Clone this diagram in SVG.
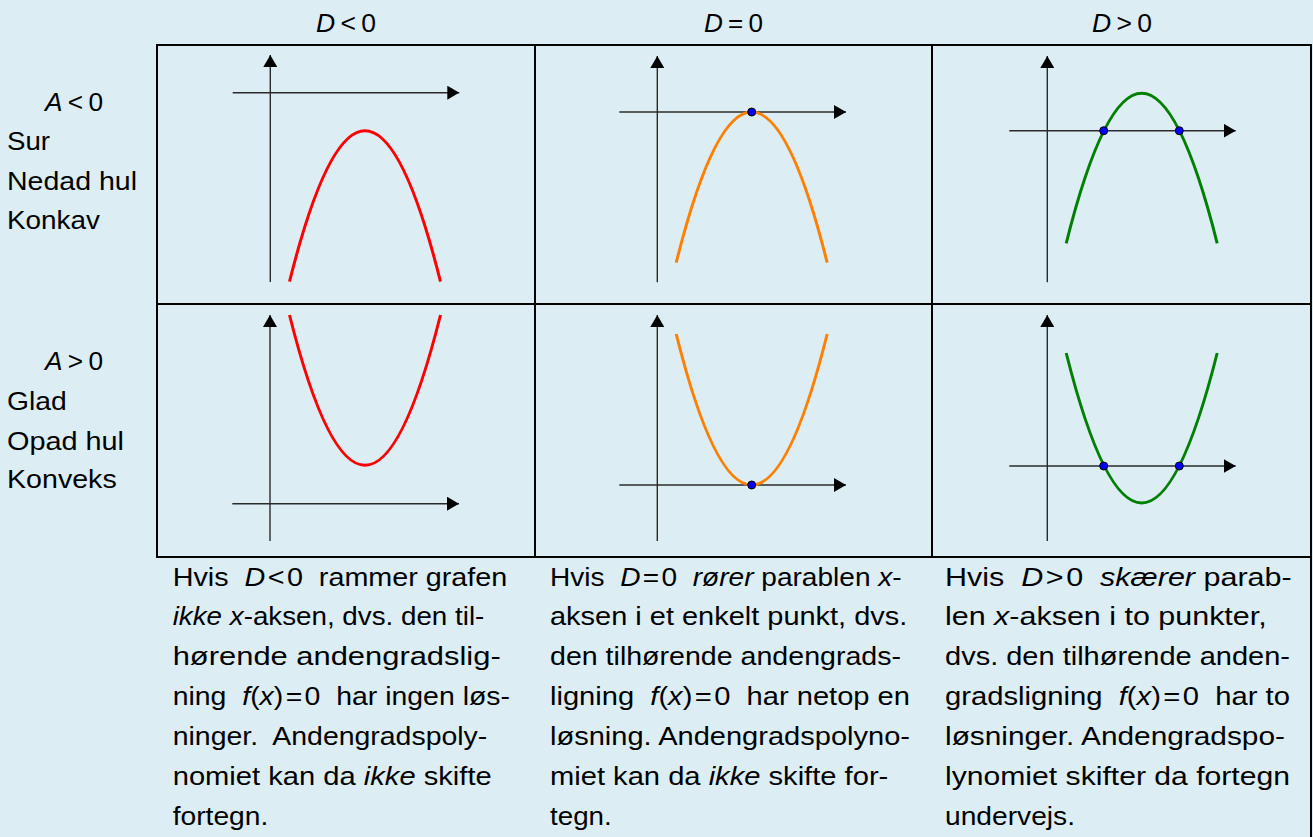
<svg xmlns="http://www.w3.org/2000/svg" width="1313" height="837" viewBox="0 0 1313 837">
<style>
text{font-family:"Liberation Sans",Arial,sans-serif;font-size:25px;fill:#000}
.it{font-style:italic}
.grid{stroke:#000;stroke-width:2;fill:none}
.ax{stroke:#2a2a2a;stroke-width:1.4;fill:none}
.red{stroke:#FF0000;stroke-width:3;fill:none}
.org{stroke:#FF8000;stroke-width:3;fill:none}
.grn{stroke:#008000;stroke-width:3;fill:none}
.dot{fill:#0000FF;stroke:#000;stroke-width:1}
</style>
<defs>
<marker id="arr" viewBox="0 0 12 14" refX="12" refY="7" markerWidth="12" markerHeight="14" markerUnits="userSpaceOnUse" orient="auto">
<path d="M0,0 L12,7 L0,14 z" fill="#000"/>
</marker>
</defs>
<rect x="0" y="0" width="1313" height="837" fill="#DCEEF4"/>

<g id="headers">
<text x="316" y="31.5" textLength="60" lengthAdjust="spacingAndGlyphs"><tspan class="it">D</tspan>&#8201;&lt;&#8201;0</text>
<text x="704" y="31.5" textLength="59" lengthAdjust="spacingAndGlyphs"><tspan class="it">D</tspan>&#8201;=&#8201;0</text>
<text x="1092" y="31.5" textLength="60" lengthAdjust="spacingAndGlyphs"><tspan class="it">D</tspan>&#8201;&gt;&#8201;0</text>
</g>

<g id="row-labels">
<text x="45" y="110.5" textLength="58" lengthAdjust="spacingAndGlyphs"><tspan class="it">A</tspan>&#8201;&lt;&#8201;0</text>
<text x="7" y="150" textLength="43" lengthAdjust="spacingAndGlyphs">Sur</text>
<text x="7" y="189.5" textLength="130" lengthAdjust="spacingAndGlyphs">Nedad hul</text>
<text x="7" y="228.5" textLength="93" lengthAdjust="spacingAndGlyphs">Konkav</text>
<text x="45" y="369.5" textLength="58" lengthAdjust="spacingAndGlyphs"><tspan class="it">A</tspan>&#8201;&gt;&#8201;0</text>
<text x="7" y="410" textLength="59.7" lengthAdjust="spacingAndGlyphs">Glad</text>
<text x="7" y="449.5" textLength="117" lengthAdjust="spacingAndGlyphs">Opad hul</text>
<text x="7" y="488" textLength="109.7" lengthAdjust="spacingAndGlyphs">Konveks</text>
</g>

<g id="grid">
<rect class="grid" x="157" y="45" width="1154" height="512"/>
<line class="grid" x1="535" y1="45" x2="535" y2="557"/>
<line class="grid" x1="932" y1="45" x2="932" y2="557"/>
<line class="grid" x1="157" y1="304" x2="1311" y2="304"/>
<line class="grid" x1="1311" y1="557" x2="1311" y2="837"/>
</g>

<g id="cell-a-neg-d-neg">
<line class="ax" x1="270.3" y1="282" x2="270.3" y2="55" marker-end="url(#arr)"/>
<line class="ax" x1="232.7" y1="92.7" x2="459.3" y2="92.7" marker-end="url(#arr)"/>
<path class="red" d="M289.5,281.7 Q365,-20.3 440.5,281.7"/>
</g>
<g id="cell-a-neg-d-zero">
<line class="ax" x1="657.3" y1="282.3" x2="657.3" y2="56" marker-end="url(#arr)"/>
<line class="ax" x1="619.3" y1="112" x2="846" y2="112" marker-end="url(#arr)"/>
<path class="org" d="M676.2,262.7 Q751.7,-38.7 827.2,262.7"/>
<circle class="dot" cx="751.7" cy="112" r="4"/>
</g>
<g id="cell-a-neg-d-pos">
<line class="ax" x1="1047.3" y1="282.3" x2="1047.3" y2="56" marker-end="url(#arr)"/>
<line class="ax" x1="1009.3" y1="130.7" x2="1235.7" y2="130.7" marker-end="url(#arr)"/>
<path class="grn" d="M1066.2,243.3 Q1141.7,-56.7 1217.2,243.3"/>
<circle class="dot" cx="1103.7" cy="130.7" r="4"/>
<circle class="dot" cx="1179.3" cy="130.7" r="4"/>
</g>
<g id="cell-a-pos-d-neg">
<line class="ax" x1="270" y1="541" x2="270" y2="315" marker-end="url(#arr)"/>
<line class="ax" x1="232.3" y1="503.7" x2="459" y2="503.7" marker-end="url(#arr)"/>
<path class="red" d="M289.5,315 Q365,615.6 440.5,315"/>
</g>
<g id="cell-a-pos-d-zero">
<line class="ax" x1="657.3" y1="541" x2="657.3" y2="315" marker-end="url(#arr)"/>
<line class="ax" x1="619.3" y1="485" x2="846" y2="485" marker-end="url(#arr)"/>
<path class="org" d="M676.2,334 Q751.7,636 827.2,334"/>
<circle class="dot" cx="751.7" cy="485" r="4"/>
</g>
<g id="cell-a-pos-d-pos">
<line class="ax" x1="1047.3" y1="541" x2="1047.3" y2="315" marker-end="url(#arr)"/>
<line class="ax" x1="1009.3" y1="466" x2="1235.7" y2="466" marker-end="url(#arr)"/>
<path class="grn" d="M1066.2,353 Q1141.7,653 1217.2,353"/>
<circle class="dot" cx="1103.7" cy="466" r="4"/>
<circle class="dot" cx="1179.3" cy="466" r="4"/>
</g>

<g id="text-d-neg">
<text x="172.7" y="585.5" textLength="334.6" lengthAdjust="spacingAndGlyphs">Hvis&#160; <tspan class="it">D</tspan>&#8202;&lt;&#8202;0&#160; rammer grafen</text>
<text x="172.7" y="625.4" textLength="311.6" lengthAdjust="spacingAndGlyphs"><tspan class="it">ikke x</tspan>-aksen, dvs. den til-</text>
<text x="172.7" y="665.3" textLength="328" lengthAdjust="spacingAndGlyphs">hørende andengradslig-</text>
<text x="172.7" y="705.2" textLength="337.3" lengthAdjust="spacingAndGlyphs">ning&#160; <tspan class="it">f</tspan>(<tspan class="it">x</tspan>)&#8202;=&#8202;0&#160; har ingen løs-</text>
<text x="172.7" y="745.1" textLength="314.6" lengthAdjust="spacingAndGlyphs">ninger.&#160; Andengradspoly-</text>
<text x="172.7" y="785" textLength="319" lengthAdjust="spacingAndGlyphs">nomiet kan da <tspan class="it">ikke</tspan> skifte</text>
<text x="172.7" y="824.9" textLength="95.6" lengthAdjust="spacingAndGlyphs">fortegn.</text>
</g>
<g id="text-d-zero">
<text x="550" y="585.5" textLength="351.7" lengthAdjust="spacingAndGlyphs">Hvis&#160; <tspan class="it">D</tspan>&#8202;=&#8202;0&#160; <tspan class="it">rører</tspan> parablen <tspan class="it">x</tspan>-</text>
<text x="550" y="625.4" textLength="357.3" lengthAdjust="spacingAndGlyphs">aksen i et enkelt punkt, dvs.</text>
<text x="550" y="665.3" textLength="351" lengthAdjust="spacingAndGlyphs">den tilhørende andengrads-</text>
<text x="550" y="705.2" textLength="360" lengthAdjust="spacingAndGlyphs">ligning&#160; <tspan class="it">f</tspan>(<tspan class="it">x</tspan>)&#8202;=&#8202;0&#160; har netop en</text>
<text x="550" y="745.1" textLength="360" lengthAdjust="spacingAndGlyphs">løsning. Andengradspolyno-</text>
<text x="550" y="785" textLength="338.3" lengthAdjust="spacingAndGlyphs">miet kan da <tspan class="it">ikke</tspan> skifte for-</text>
<text x="550" y="824.9" textLength="61.7" lengthAdjust="spacingAndGlyphs">tegn.</text>
</g>
<g id="text-d-pos">
<text x="945" y="585.5" textLength="346.7" lengthAdjust="spacingAndGlyphs">Hvis&#160; <tspan class="it">D</tspan>&#8202;&gt;&#8202;0&#160; <tspan class="it">skærer</tspan> parab-</text>
<text x="945" y="625.4" textLength="321.7" lengthAdjust="spacingAndGlyphs">len <tspan class="it">x</tspan>-aksen i to punkter,</text>
<text x="945" y="665.3" textLength="345" lengthAdjust="spacingAndGlyphs">dvs. den tilhørende anden-</text>
<text x="945" y="705.2" textLength="345" lengthAdjust="spacingAndGlyphs">gradsligning&#160; <tspan class="it">f</tspan>(<tspan class="it">x</tspan>)&#8202;=&#8202;0&#160; har to</text>
<text x="945" y="745.1" textLength="340" lengthAdjust="spacingAndGlyphs">løsninger. Andengradspo-</text>
<text x="945" y="785" textLength="345" lengthAdjust="spacingAndGlyphs">lynomiet skifter da fortegn</text>
<text x="945" y="824.9" textLength="130" lengthAdjust="spacingAndGlyphs">undervejs.</text>
</g>
</svg>
